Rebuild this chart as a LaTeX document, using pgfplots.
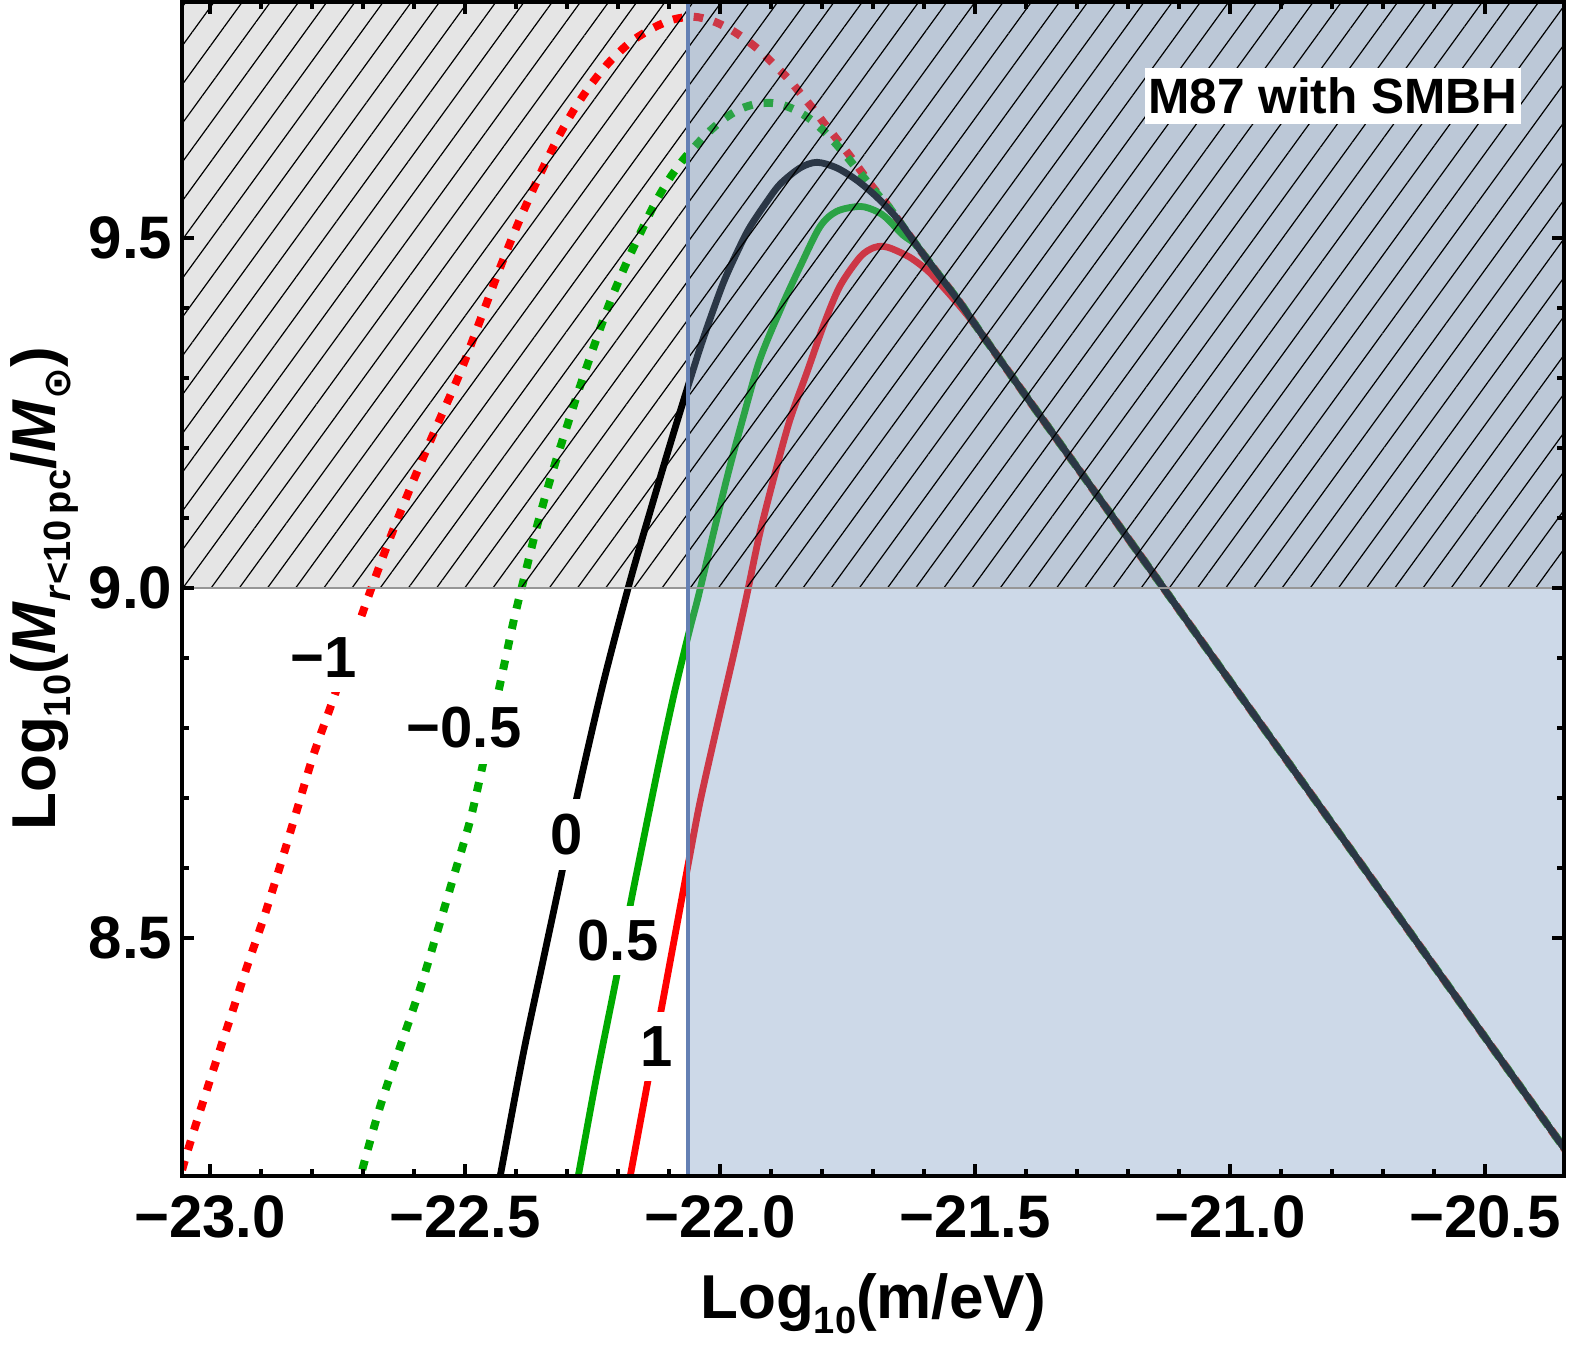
\documentclass[border=0pt]{standalone}
\usepackage{pgfplots}
\pgfplotsset{compat=1.18}
\usepackage{fontspec}
\setmainfont{Liberation Sans}
\newfontfamily\dejavu{DejaVu Sans}
\usetikzlibrary{patterns.meta}

\definecolor{grayfill}{gray}{0.9}
\definecolor{blueov}{RGB}{118,151,192}
\definecolor{vline}{RGB}{100,128,180}
\definecolor{mgreen}{RGB}{0,170,0}
\definecolor{hline}{RGB}{150,150,150}

\newcommand{\sub}[1]{\raisebox{-3.75pt}{\fontsize{9.5}{10}\selectfont #1}}

\begin{document}
\begin{tikzpicture}
\begin{axis}[
  scale only axis, width=345.5pt, height=293.5pt,
  xmin=-23.055, xmax=-20.345, ymin=8.16, ymax=9.837,
  axis on top,
  axis line style={line width=1pt},
  xtick={-23,-22.5,-22,-21.5,-21,-20.5},
  xticklabels={−23.0,−22.5,−22.0,−21.5,−21.0,−20.5},
  ytick={8.5,9,9.5}, yticklabels={8.5,9.0,9.5},
  minor x tick num=4, minor y tick num=4,
  tick align=inside,
  major tick length=3pt, minor tick length=1.8pt,
  every tick/.append style={black, line width=0.8pt},
  ticklabel style={font=\fontsize{15}{18}\selectfont\bfseries},
  xticklabel style={anchor=north, inner sep=0pt, yshift=-4.75pt},
  yticklabel style={anchor=east, inner sep=0pt, xshift=-2.25pt},
  dotline/.style={line width=2pt, dash pattern=on 2.4pt off 2.8pt, line join=round},
  solline/.style={line width=1.7pt, line join=round},
]
\fill[grayfill] (axis cs:-23.2,9) rectangle (axis cs:-20.2,10);

% -1 (red dotted)
\addplot[red, dotline, smooth] coordinates {
(-23.065,8.140) (-23.052,8.176) (-23.029,8.231) (-22.993,8.313) (-22.961,8.384)
(-22.928,8.458) (-22.895,8.528) (-22.863,8.602) (-22.830,8.682) (-22.797,8.762)
(-22.758,8.842) (-22.722,8.920) (-22.686,8.995) (-22.645,9.075) (-22.601,9.154)
(-22.555,9.232) (-22.510,9.307) (-22.470,9.383) (-22.431,9.458) (-22.394,9.524)
(-22.356,9.586) (-22.320,9.640) (-22.284,9.686) (-22.250,9.722) (-22.216,9.752)
(-22.175,9.780) (-22.131,9.800) (-22.092,9.812) (-22.052,9.816) (-22.015,9.810)
(-21.980,9.798) (-21.947,9.782) (-21.918,9.765) (-21.892,9.746) (-21.867,9.728)
(-21.843,9.707) (-21.818,9.685) (-21.794,9.662) (-21.771,9.641) (-21.745,9.617)
(-21.722,9.594) (-21.700,9.572) (-21.675,9.550) (-21.653,9.528) (-21.614,9.489)
(-21.575,9.451) (-21.529,9.407) (-21.490,9.366) (-21.400,9.274) (-21.200,9.071)
(-21.000,8.867) (-20.700,8.562) (-20.340,8.195)
};
% -0.5 (green dotted)
\addplot[mgreen, dotline, smooth] coordinates {
(-22.710,8.140) (-22.703,8.165) (-22.667,8.258) (-22.627,8.345) (-22.588,8.428)
(-22.556,8.505) (-22.523,8.586) (-22.490,8.668) (-22.465,8.748) (-22.435,8.850)
(-22.405,8.952) (-22.388,9.003) (-22.360,9.085) (-22.333,9.155) (-22.304,9.222)
(-22.275,9.287) (-22.245,9.350) (-22.216,9.408) (-22.183,9.465) (-22.151,9.515)
(-22.125,9.553) (-22.098,9.586) (-22.073,9.611) (-22.049,9.631) (-22.024,9.650)
(-21.994,9.669) (-21.961,9.684) (-21.925,9.692) (-21.888,9.692) (-21.853,9.683)
(-21.820,9.668) (-21.790,9.648) (-21.765,9.628) (-21.741,9.607) (-21.720,9.588)
(-21.692,9.563) (-21.670,9.545) (-21.653,9.528) (-21.614,9.489) (-21.575,9.451)
(-21.529,9.407) (-21.490,9.366) (-21.400,9.274) (-21.200,9.071) (-21.000,8.867)
(-20.700,8.562) (-20.340,8.195)
};
% 1 (red solid)
\addplot[red, solline, smooth] coordinates {
(-22.182,8.135) (-22.176,8.160) (-22.137,8.313) (-22.118,8.387) (-22.090,8.497)
(-22.062,8.607) (-22.039,8.695) (-22.005,8.805) (-21.971,8.912) (-21.948,8.988)
(-21.922,9.078) (-21.892,9.164) (-21.863,9.240) (-21.830,9.307) (-21.797,9.375)
(-21.765,9.431) (-21.725,9.473) (-21.699,9.486) (-21.680,9.488) (-21.661,9.484)
(-21.627,9.472) (-21.594,9.454) (-21.569,9.435) (-21.529,9.402) (-21.490,9.366)
(-21.400,9.274) (-21.200,9.071) (-21.000,8.867) (-20.700,8.562) (-20.340,8.195)
};
% 0.5 (green solid)
\addplot[mgreen, solline, smooth] coordinates {
(-22.285,8.135) (-22.278,8.160) (-22.242,8.302) (-22.203,8.444) (-22.176,8.547)
(-22.147,8.652) (-22.118,8.755) (-22.089,8.852) (-22.059,8.942) (-22.0425,8.988)
(-22.013,9.078) (-21.984,9.164) (-21.954,9.245) (-21.922,9.326) (-21.882,9.397)
(-21.843,9.459) (-21.804,9.516) (-21.771,9.538) (-21.725,9.545) (-21.693,9.538)
(-21.673,9.528) (-21.641,9.504) (-21.614,9.489) (-21.575,9.451) (-21.529,9.407)
(-21.490,9.366) (-21.400,9.274) (-21.200,9.071) (-21.000,8.867) (-20.700,8.562)
(-20.340,8.195)
};
% 0 (black solid)
\addplot[black, solline, smooth] coordinates {
(-22.440,8.125) (-22.431,8.160) (-22.386,8.334) (-22.346,8.471) (-22.310,8.594)
(-22.281,8.700) (-22.229,8.864) (-22.176,9.011) (-22.131,9.124) (-22.095,9.212)
(-22.059,9.297) (-22.033,9.356) (-21.994,9.435) (-21.961,9.488) (-21.941,9.516)
(-21.908,9.552) (-21.882,9.577) (-21.843,9.600) (-21.810,9.608) (-21.771,9.600)
(-21.731,9.582) (-21.692,9.558) (-21.653,9.528) (-21.614,9.489) (-21.575,9.451)
(-21.529,9.407) (-21.490,9.366) (-21.400,9.274) (-21.200,9.071) (-21.000,8.867)
(-20.700,8.562) (-20.340,8.195)
};

\fill[blueov, opacity=0.365] (axis cs:-22.063,8) rectangle (axis cs:-20.2,10);
\fill[pattern={Lines[angle=54,distance=5.7pt,line width=0.3pt]}, pattern color=black]
  (axis cs:-23.2,9) rectangle (axis cs:-20.2,10);
\draw[hline, line width=0.35pt] (axis cs:-23.2,9) -- (axis cs:-20.2,9);
\draw[vline, line width=0.85pt] (axis cs:-22.063,8) -- (axis cs:-22.063,10);

\tikzset{clab/.style={fill=white, inner xsep=1pt, inner ysep=3.75pt, font=\fontsize{14.5}{17}\selectfont\bfseries}}
\node[clab, inner xsep=2.5pt] at (axis cs:-22.778,8.901) {−1};
\node[clab] at (axis cs:-22.502,8.800) {−0.5};
\node[clab] at (axis cs:-22.301,8.648) {0};
\node[clab, inner xsep=0.4pt, inner ysep=3.5pt] at (axis cs:-22.200,8.496) {0.5};
\node[clab] at (axis cs:-22.124,8.345) {1};

\node[fill=white, inner xsep=0.75pt, inner ysep=0pt, minimum height=14pt,
  font=\fontsize{12.4}{14}\selectfont\bfseries] at (axis cs:-20.798,9.703) {M87 with SMBH};

\coordinate (SW) at (rel axis cs:0,0);
\coordinate (NE) at (rel axis cs:1,1);
\end{axis}

\node[anchor=base, inner sep=0pt, font=\fontsize{15.5}{18}\selectfont\bfseries]
  at ([shift={(172.75pt,-35.5pt)}]SW) {Log\sub{10}(m/eV)};
\node[anchor=base, rotate=90, inner sep=0pt, font=\fontsize{15.5}{18}\selectfont\bfseries]
  at ([shift={(-31.5pt,146.75pt)}]SW)
  {Log\sub{10}(\textit{M}\sub{\textit{r}<10\,pc}/\textit{M}\sub{{\dejavu\bfseries ⊙}})};

\pgfresetboundingbox
\path[use as bounding box] ([shift={(-45.5pt,-42pt)}]SW) rectangle ([shift={(1.5pt,0.5pt)}]NE);
\end{tikzpicture}
\end{document}
